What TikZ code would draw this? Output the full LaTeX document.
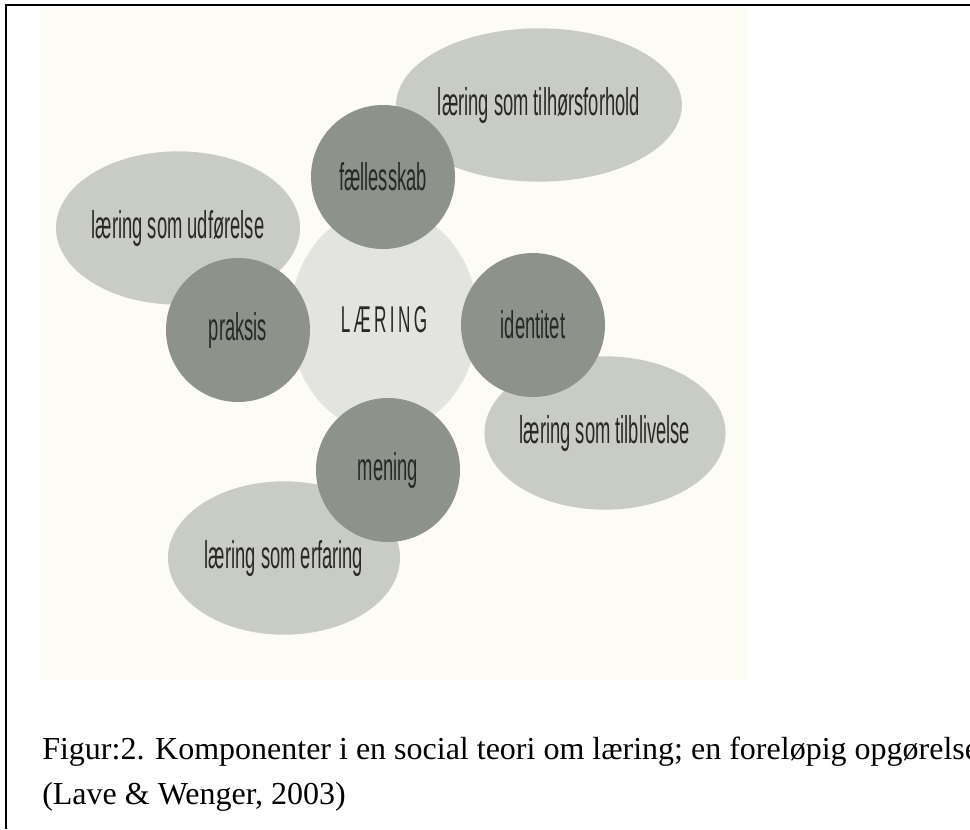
\documentclass[tikz,border=0pt]{standalone}
\usepackage{fontspec}
\setmainfont{Liberation Serif}
\newfontfamily\lblfont[FakeStretch=0.475]{Liberation Sans}
\newfontfamily\bigfont[FakeStretch=0.46]{Liberation Sans}
\usetikzlibrary{shapes.geometric}
\definecolor{scanbg}{RGB}{252,252,244}
\definecolor{darkc}{RGB}{141,146,139}
\definecolor{lightc}{RGB}{201,203,197}
\definecolor{centerc}{RGB}{227,228,224}
\definecolor{inkc}{RGB}{40,40,40}
\tikzset{
  lightell/.style={ellipse, fill=lightc, inner sep=0pt, minimum width=174pt, minimum height=115pt,
    text=inkc, font=\lblfont\fontsize{29}{31}\selectfont},
  darkcirc/.style={circle, fill=darkc, inner sep=0pt, minimum size=108pt,
    text=inkc, font=\lblfont\fontsize{29}{31}\selectfont},
  centerell/.style={ellipse, fill=centerc, inner sep=0pt, minimum width=141pt, minimum height=168pt,
    text=inkc, font=\bigfont\fontsize{28}{30}\selectfont},
  captxt/.style={anchor=base west, inner sep=0pt, text=black, font=\fontsize{24}{28}\selectfont},
  framelin/.style={line width=1.6pt, black}
}
\begin{document}
\begin{tikzpicture}[x=0.75pt,y=-0.75pt]
\useasboundingbox (0,0) rectangle (970,829);
\fill[white] (0,0) rectangle (970,829);
\fill[scanbg] (40,7) rectangle (748,680);
% frame
\coordinate (ftr) at (970,5);
\coordinate (ftl) at (6,5);
\coordinate (fbl) at (6,829);
\draw[framelin] (ftr) -- (ftl) -- (fbl);
% centre
\node[centerell] (laering) at (384,320) {L\kern2.5ptÆ\kern2.5ptR\kern2.5ptI\kern2.5ptN\kern2.5ptG};
% outer ellipses
\node[lightell] (tilh) at (539,105) {læring som tilhørsforhold};
\node[lightell] (udf) at (178,228) {læring som udførelse};
\node[lightell] (tilb) at (605,433) {læring som tilblivelse};
\node[lightell] (erf) at (284,558) {læring som erfaring};
% dark circles
\node[darkcirc] (faell) at (383,177) {fællesskab};
\node[darkcirc] (praksis) at (238,330) {praksis};
\node[darkcirc] (ident) at (533,325) {identitet};
\node[darkcirc] (mening) at (388,470) {mening};
% caption
\node[captxt] (cap1) at (42,759) {Figur:2. Komponenter i en social teori om læring; en foreløpig opgørelse};
\node[captxt] (cap2) at (42,804) {(Lave \& Wenger, 2003)};
\end{tikzpicture}
\end{document}
